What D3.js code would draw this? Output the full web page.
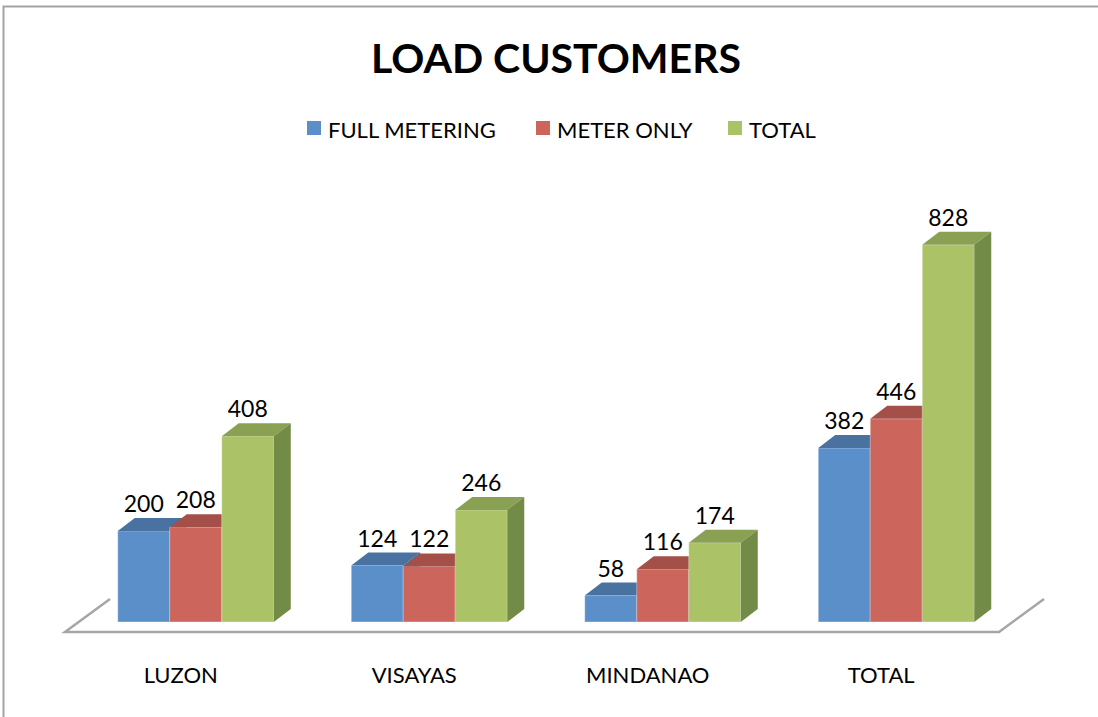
<!DOCTYPE html>
<html>
<head>
<meta charset="utf-8">
<script src="https://cdn.jsdelivr.net/npm/d3@7"></script>
<style>
  body { margin: 0; background: #fff; }
  text { font-family: Lato, "Open Sans", sans-serif; fill: #000; }
</style>
</head>
<body>
<div id="chart"></div>
<script>
// chart data
const categories = ["LUZON", "VISAYAS", "MINDANAO", "TOTAL"];
const seriesNames = ["FULL METERING", "METER ONLY", "TOTAL"];
const fullMetering = [200, 124, 58, 382];
const meterOnly = [208, 122, 116, 446];
const totals = [408, 246, 174, 828];

const width = 1098, height = 717;

// colours per series: front, top, side
const faces = [
  { front: "#5b8fca", top: "#4a72a1", side: "#41668f" },
  { front: "#cc655b", top: "#a44f48", side: "#8f4540" },
  { front: "#abc267", top: "#8aa052", side: "#728b46" }
];

const svg = d3.select("#chart").append("svg")
  .attr("width", width)
  .attr("height", height);

// outer chart border (only top / left visible in the crop)
svg.append("path")
  .attr("d", "M3.5,717 L3.5,6.5 L1098,6.5")
  .attr("fill", "none")
  .attr("stroke", "#a3a3a3")
  .attr("stroke-width", 2);

// title
svg.append("text")
  .attr("x", 556)
  .attr("y", 73)
  .attr("text-anchor", "middle")
  .style("font-weight", "bold")
  .style("font-size", "41px")
  .text("LOAD CUSTOMERS");

// legend
const legendX = [307, 536, 728];
const legend = svg.selectAll(".legend")
  .data(seriesNames)
  .enter().append("g")
  .attr("class", "legend")
  .attr("transform", (d, i) => `translate(${legendX[i]}, 121)`);
legend.append("rect")
  .attr("width", 14).attr("height", 14)
  .attr("fill", (d, i) => faces[i].front);
legend.append("text")
  .attr("x", 21)
  .attr("y", 17)
  .style("font-size", "22px")
  .text(d => d);

// scales
const floorLeft = 65, floorRight = 999, floorFront = 632;
const floorDx = 45, floorDy = 33;
const barDx = 17, barDy = 13;
const base = 622;

const x = d3.scaleBand().domain(categories).range([floorLeft, floorRight]);
const xs = d3.scaleBand().domain(seriesNames).range([0, 156]);
const y = d3.scaleLinear().domain([0, 900]).range([base, base - 900 * 0.4555]);

// floor outline
svg.append("path")
  .attr("d", `M${floorLeft + floorDx},${floorFront - floorDy} L${floorLeft},${floorFront} L${floorRight},${floorFront} L${floorRight + floorDx},${floorFront - floorDy}`)
  .attr("fill", "none")
  .attr("stroke", "#a6a6a6")
  .attr("stroke-width", 2.5);

// category labels
svg.selectAll(".cat")
  .data(categories)
  .enter().append("text")
  .attr("class", "cat")
  .attr("x", d => x(d) + x.bandwidth() / 2 - 1)
  .attr("y", 683)
  .attr("text-anchor", "middle")
  .style("font-size", "22px")
  .text(d => d);

// bars
const values = [fullMetering, meterOnly, totals];
const shift = (floorDx - barDx) / 2;

categories.forEach((c, ci) => {
  const g = svg.append("g")
    .attr("transform", `translate(${x(c) + x.bandwidth() / 2 + shift - 78}, 0)`);
  seriesNames.forEach((s, si) => {
    const v = values[si][ci];
    const x0 = xs(s), w = xs.bandwidth(), top = y(v);
    g.append("rect")
      .attr("x", x0).attr("y", top)
      .attr("width", w).attr("height", base - top)
      .attr("fill", faces[si].front)
      .attr("stroke", "rgba(255,255,255,0.35)")
      .attr("stroke-width", 1);
    g.append("path")
      .attr("d", `M${x0},${top} L${x0 + barDx},${top - barDy} L${x0 + w + barDx},${top - barDy} L${x0 + w},${top} Z`)
      .attr("fill", faces[si].top);
    g.append("path")
      .attr("d", `M${x0 + w},${top} L${x0 + w + barDx},${top - barDy} L${x0 + w + barDx},${base - barDy} L${x0 + w},${base} Z`)
      .attr("fill", faces[si].side);
    g.append("text")
      .attr("x", x0 + w / 2)
      .attr("y", top - barDy - 6)
      .attr("text-anchor", "middle")
      .style("font-size", "23px")
      .text(v);
  });
});
</script>
</body>
</html>
